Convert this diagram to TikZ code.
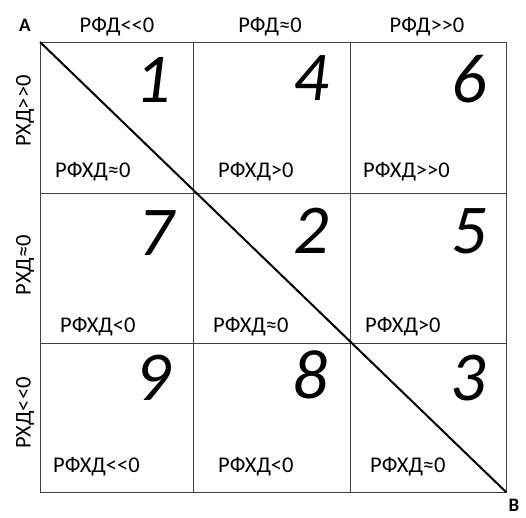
\documentclass[tikz,border=0pt]{standalone}
\usepackage{fontspec}
\setmainfont{Carlito}
\begin{document}
\begin{tikzpicture}[x=1pt,y=-1pt,
  lbl/.style={inner sep=0pt,font=\fontsize{22.5}{22.5}\selectfont},
  cornerlbl/.style={inner sep=0pt,font=\fontsize{19}{19}\selectfont\bfseries},
  bignum/.style={inner sep=0pt,anchor=base,font=\fontsize{70}{70}\selectfont\itshape},
  gridline/.style={draw=black!75,line width=0.9pt},
  diag/.style={draw=black,line width=2pt}]
\useasboundingbox (0,0) rectangle (526,517);
% grid corners
\coordinate (tl) at (40,42);
\coordinate (br) at (506,492);
\coordinate (c1t) at (193,42); \coordinate (c1b) at (193,492);
\coordinate (c2t) at (350,42); \coordinate (c2b) at (350,492);
\coordinate (r1l) at (40,193); \coordinate (r1r) at (506,193);
\coordinate (r2l) at (40,343); \coordinate (r2r) at (506,343);
\draw[gridline] (tl) rectangle (br);
\draw[gridline] (c1t) -- (c1b);
\draw[gridline] (c2t) -- (c2b);
\draw[gridline] (r1l) -- (r1r);
\draw[gridline] (r2l) -- (r2r);
\draw[diag] (tl) -- (br);
% corner labels
\node[cornerlbl] (A) at (25,25) {A};
\node[cornerlbl] (B) at (514,505) {B};
% headers
\node[lbl,anchor=base] (h1) at (117,32) {РФД<\kern0pt<0};
\node[lbl,anchor=base] (h2) at (270,32) {РФД≈0};
\node[lbl,anchor=base] (h3) at (427,32) {РФД>\kern0pt>0};
% row labels
\node[lbl,rotate=90] (v1) at (25,111) {РХД>\kern0pt>0};
\node[lbl,rotate=90] (v2) at (25,265) {РХД≈0};
\node[lbl,rotate=90] (v3) at (25,413) {РХД<\kern0pt<0};
% big numbers
\node[bignum] (n1) at (153,102) {1};
\node[bignum] (n4) at (311,100) {4};
\node[bignum] (n6) at (469,102) {6};
\node[bignum] (n7) at (156,255) {7};
\node[bignum] (n2) at (311,253) {2};
\node[bignum] (n5) at (469,253) {5};
\node[bignum] (n9) at (153,400) {9};
\node[bignum] (n8) at (310,398) {8};
\node[bignum] (n3) at (468,400) {3};
% cell labels
\node[lbl,anchor=base west] (l11) at (55,177) {РФХД≈0};
\node[lbl,anchor=base west] (l12) at (218,177) {РФХД>0};
\node[lbl,anchor=base west] (l13) at (363,177) {РФХД>\kern0pt>0};
\node[lbl,anchor=base west] (l21) at (60,332) {РФХД<0};
\node[lbl,anchor=base west] (l22) at (213,332) {РФХД≈0};
\node[lbl,anchor=base west] (l23) at (365,332) {РФХД>0};
\node[lbl,anchor=base west] (l31) at (53,472) {РФХД<\kern0pt<0};
\node[lbl,anchor=base west] (l32) at (218,472) {РФХД<0};
\node[lbl,anchor=base west] (l33) at (370,472) {РФХД≈0};
\end{tikzpicture}
\end{document}
